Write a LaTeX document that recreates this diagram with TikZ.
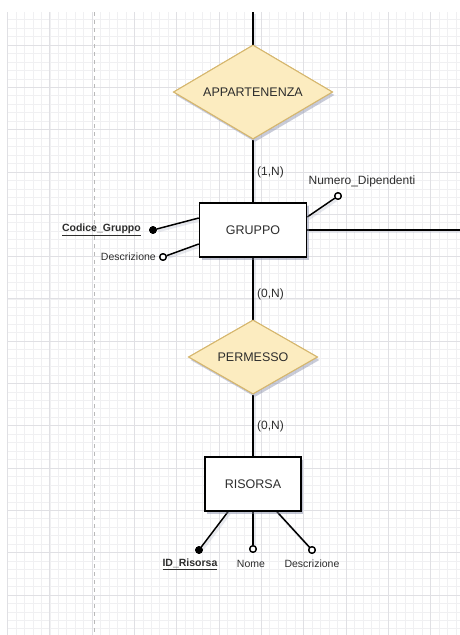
\documentclass[tikz,border=0pt]{standalone}
\usepackage{fontspec}
\setmainfont{Liberation Sans}
\usetikzlibrary{shapes.geometric,shadows}

\definecolor{gridminor}{RGB}{240,240,242}
\definecolor{gridmajor}{RGB}{224,224,228}
\definecolor{guide}{RGB}{185,185,185}
\definecolor{relfill}{RGB}{252,236,192}
\definecolor{reledge}{RGB}{214,183,110}
\definecolor{labeltext}{RGB}{45,45,45}
\definecolor{shade}{RGB}{150,155,180}

\tikzset{
  x=1pt, y=-1pt,
  link/.style={line width=1.5pt, draw=black,
    preaction={draw=shade, line width=2.5pt, opacity=.22,
      transform canvas={shift={(1.5pt,-2pt)}}}},
  entity/.style={rectangle, draw=black, line width=1.5pt, fill=white,
    text=labeltext, font=\fontsize{12.5}{15}\selectfont, inner sep=0pt,
    drop shadow={shadow xshift=2pt, shadow yshift=-3pt, fill=shade, opacity=.35}},
  relation/.style={diamond, draw=reledge, line width=1pt, fill=relfill,
    text=labeltext, font=\fontsize{12.5}{15}\selectfont, inner sep=0pt,
    drop shadow={shadow xshift=2pt, shadow yshift=-3pt, fill=shade, opacity=.3}},
  keydot/.style={circle, fill=black, draw=black, line width=.6pt,
    minimum size=7pt, inner sep=0pt},
  attrdot/.style={circle, fill=white, draw=black, line width=1.3pt,
    minimum size=6.5pt, inner sep=0pt},
  card/.style={anchor=west, inner sep=0pt, text=labeltext,
    font=\fontsize{12}{14}\selectfont},
  attrlabel/.style={inner sep=0pt, text=labeltext,
    font=\fontsize{10.5}{12}\selectfont},
  keylabel/.style={inner sep=0pt, text=labeltext,
    font=\fontsize{10.5}{12}\selectfont\bfseries},
}

\begin{document}
\begin{tikzpicture}
\useasboundingbox (0,0) rectangle (460,635);
\fill[white] (0,0) rectangle (460,635);

% background grid: fine cells of 8.46pt, heavier every fifth line
\begin{scope}
  \clip (7,12) rectangle (460,635);
  \foreach \i in {0,...,60} {
    \draw[gridminor, line width=.6pt] (7.5+\i*8.46,0) -- (7.5+\i*8.46,635);
  }
  \foreach \i in {0,...,80} {
    \draw[gridminor, line width=.6pt] (0,2.7+\i*8.46) -- (460,2.7+\i*8.46);
  }
  \foreach \i in {0,...,12} {
    \draw[gridmajor, line width=.8pt] (7.5+\i*42.3,0) -- (7.5+\i*42.3,635);
  }
  \foreach \i in {0,...,16} {
    \draw[gridmajor, line width=.8pt] (0,2.7+\i*42.3) -- (460,2.7+\i*42.3);
  }
\end{scope}

% page guide
\coordinate (guidetop) at (94,12);
\coordinate (guidebot) at (94,635);
\draw[guide, line width=1pt, dash pattern=on 4pt off 4pt] (guidetop) -- (guidebot);

% relationships and entities
\node[relation, minimum width=159pt, minimum height=94pt, shape aspect=1.69] (app) at (253,92) {APPARTENENZA};
\node[entity, minimum width=107pt, minimum height=54pt] (grp) at (253,230) {GRUPPO};
\node[relation, minimum width=129pt, minimum height=74pt, shape aspect=1.74] (perm) at (253,357) {PERMESSO};
\node[entity, minimum width=96pt, minimum height=54pt] (ris) at (253,484) {RISORSA};

\coordinate (topend) at (253,12);
\coordinate (rightend) at (461,230);

% attribute markers
\node[keydot] (cgdot) at (153,230) {};
\node[attrdot] (gddot) at (163,257) {};
\node[attrdot] (nddot) at (338,196) {};
\node[keydot] (irdot) at (199,550) {};
\node[attrdot] (nmdot) at (253,549) {};
\node[attrdot] (rddot) at (312,550) {};

% connectors
\draw[link] (topend) -- (app.north);
\draw[link] (app.south) -- (grp.north);
\draw[link] (grp.south) -- (perm.north);
\draw[link] (perm.south) -- (ris.north);
\draw[link] (grp.east) -- (rightend);
\draw[link] ([yshift=12pt]grp.west) -- (cgdot);
\draw[link] ([yshift=-14pt]grp.west) -- (gddot);
\draw[link] ([yshift=13pt]grp.east) -- (nddot);
\draw[link] ([xshift=-25pt]ris.south) -- (irdot);
\draw[link] (ris.south) -- (nmdot);
\draw[link] ([xshift=24pt]ris.south) -- (rddot);

% redraw markers and shapes above the connectors
\node[relation, minimum width=159pt, minimum height=94pt, shape aspect=1.69] at (app) {APPARTENENZA};
\node[entity, minimum width=107pt, minimum height=54pt] at (grp) {GRUPPO};
\node[relation, minimum width=129pt, minimum height=74pt, shape aspect=1.74] at (perm) {PERMESSO};
\node[entity, minimum width=96pt, minimum height=54pt] at (ris) {RISORSA};
\node[keydot] at (cgdot) {};
\node[attrdot] at (gddot) {};
\node[attrdot] at (nddot) {};
\node[keydot] at (irdot) {};
\node[attrdot] at (nmdot) {};
\node[attrdot] at (rddot) {};

% cardinalities
\node[card] (c1) at (257,172) {(1,N)};
\node[card] (c2) at (257,294) {(0,N)};
\node[card] (c3) at (257,426) {(0,N)};

% attribute names
\node[keylabel, anchor=east] (cglab) at (141,230) {\underline{Codice\_Gruppo}};
\node[attrlabel, anchor=east] (gdlab) at (156,257) {Descrizione};
\node[attrlabel, font=\fontsize{12}{14}\selectfont] (ndlab) at (362,181) {Numero\_Dipendenti};
\node[keylabel] (irlab) at (190,564) {\underline{ID\_Risorsa}};
\node[attrlabel] (nmlab) at (251,564) {Nome};
\node[attrlabel] (rdlab) at (312,564) {Descrizione};
\end{tikzpicture}
\end{document}
